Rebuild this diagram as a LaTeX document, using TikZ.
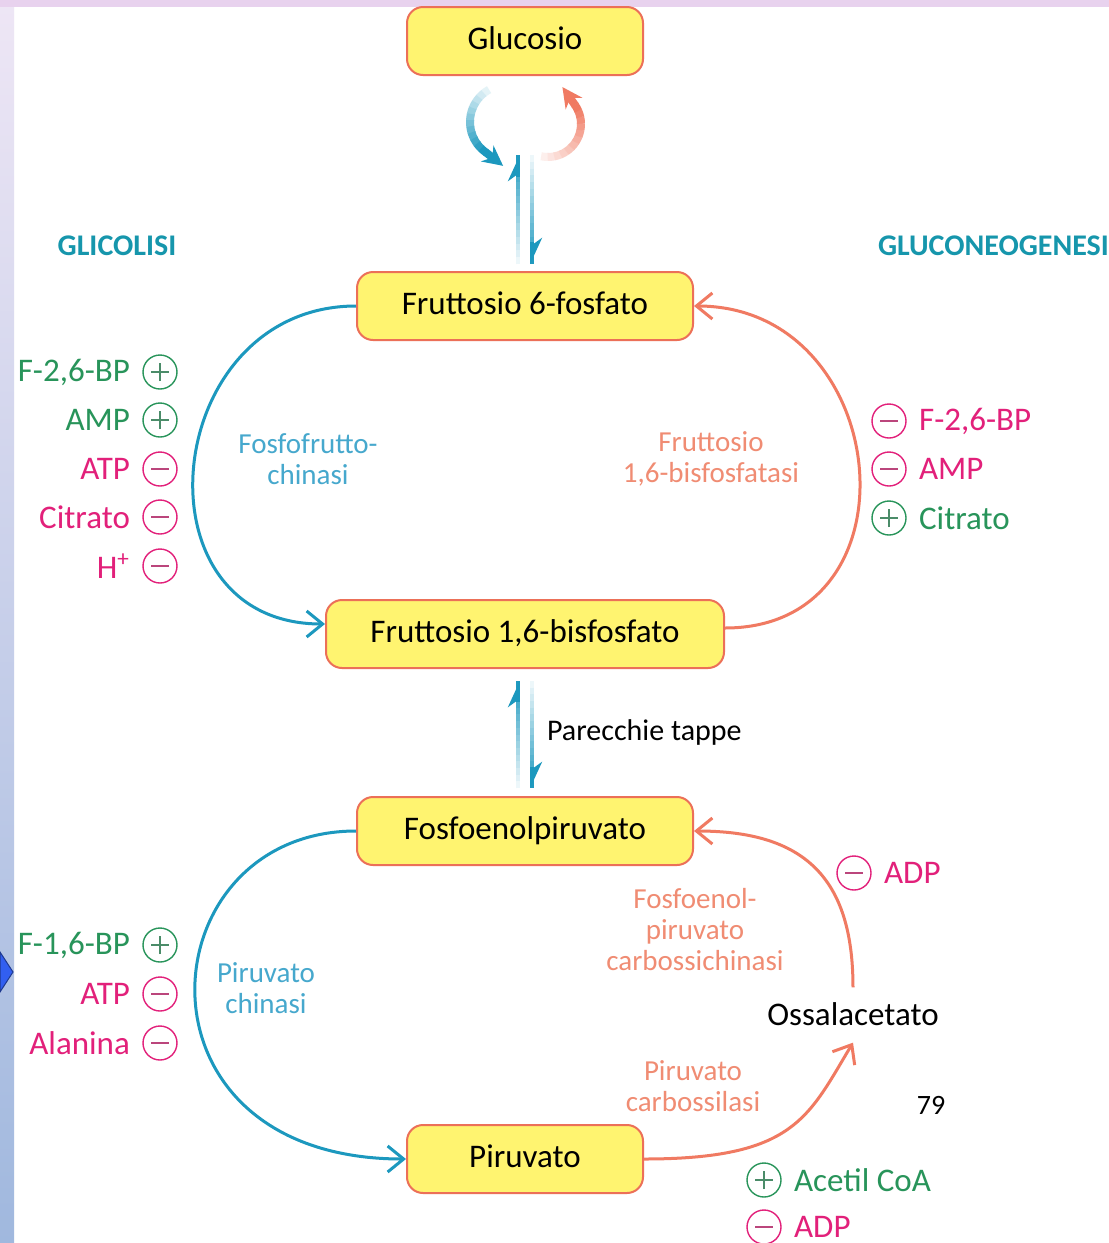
\documentclass[tikz,border=0pt]{standalone}
\usepackage{fontspec}
\setmainfont{Carlito}
\usetikzlibrary{positioning,arrows.meta,calc}

\definecolor{boxfill}{RGB}{255,244,112}
\definecolor{boxline}{RGB}{236,112,88}
\definecolor{glyblue}{RGB}{28,152,190}
\definecolor{neosalmon}{RGB}{240,122,98}
\definecolor{actgreen}{RGB}{40,148,90}
\definecolor{inhmag}{RGB}{226,32,122}
\definecolor{enzblue}{RGB}{70,168,205}
\definecolor{enzsalmon}{RGB}{240,140,115}
\definecolor{pathteal}{RGB}{22,150,172}
\definecolor{stripTop}{RGB}{238,230,245}
\definecolor{stripBot}{RGB}{160,184,222}
\definecolor{stripPink}{RGB}{232,210,238}
\definecolor{navblue}{RGB}{50,95,240}

\begin{document}
\begin{tikzpicture}[x=0.5pt,y=-0.5pt]
\tikzstyle{metab}=[draw=boxline,fill=boxfill,line width=1pt,rounded corners=8pt,minimum height=34pt,inner sep=0pt,text height=2.25ex,text depth=0.45ex,font=\fontsize{16.5}{20}\selectfont]
\tikzstyle{enzG}=[text=enzblue,align=center,font=\fontsize{14.5}{15.3}\selectfont]
\tikzstyle{enzN}=[text=enzsalmon,align=center,font=\fontsize{14.5}{15.5}\selectfont]
\tikzstyle{regG}=[text=actgreen,inner sep=0pt,font=\fontsize{16.5}{20}\selectfont]
\tikzstyle{regM}=[text=inhmag,inner sep=0pt,font=\fontsize{16.5}{20}\selectfont]
\tikzstyle{act}=[circle,draw=actgreen,line width=0.7pt,minimum size=17pt,inner sep=0pt,
  path picture={\draw[actgreen!60!gray,line width=0.6pt]
    ([xshift=-4.5pt]path picture bounding box.center) -- ([xshift=4.5pt]path picture bounding box.center)
    ([yshift=-4.5pt]path picture bounding box.center) -- ([yshift=4.5pt]path picture bounding box.center);}]
\tikzstyle{inh}=[circle,draw=inhmag,line width=0.7pt,minimum size=17pt,inner sep=0pt,
  path picture={\draw[inhmag!60!gray,line width=0.6pt]
    ([xshift=-4.5pt]path picture bounding box.center) -- ([xshift=4.5pt]path picture bounding box.center);}]
\tikzstyle{glyarc}=[draw=glyblue,line width=1.5pt,-{Straight Barb[length=8pt,width=13pt]}]
\tikzstyle{neoarc}=[draw=neosalmon,line width=1.5pt,-{Straight Barb[length=8pt,width=13pt]}]

% page frame
\useasboundingbox (0,0) rectangle (1109,1243);
\fill[white] (0,0) rectangle (1109,1243);
\shade[top color=stripTop,bottom color=stripBot] (0,0) rectangle (14,1243);
\fill[stripPink] (0,0) rectangle (1109,7);
\fill[navblue,draw=navblue!60!black,line width=0.5pt] (0,952) -- (13,972) -- (0,992) -- cycle;

% metabolites
\node[metab,minimum width=118pt] (glu) at (525,41) {Glucosio};
\node[metab,minimum width=168pt] (f6p) at (525,306) {Fruttosio 6-fosfato};
\node[metab,minimum width=199pt] (f16bp) at (525,634) {Fruttosio 1,6-bisfosfato};
\node[metab,minimum width=168pt] (pep) at (525,831) {Fosfoenolpiruvato};
\node[metab,minimum width=118pt] (pir) at (525,1159) {Piruvato};
\node[font=\fontsize{16.5}{20}\selectfont] (oss) at (853,1014) {Ossalacetato};

% pathway titles
\node[text=pathteal,font=\fontsize{15}{18}\selectfont\bfseries] (gly) at (117,246) {GLICOLISI};
\node[text=pathteal,font=\fontsize{15}{18}\selectfont\bfseries,anchor=west] (neo) at (871,246) {GLUCONEOGENESI};

% enzymes
\node[enzG] (pfk) at (308,459) {Fosfofrutto-\\chinasi};
\node[enzN] (fbp) at (711,459) {Fruttosio\\1,6-bisfosfatasi};
\node[enzG] (pk) at (266,988) {Piruvato\\chinasi};
\node[enzN] (pepck) at (695,930) {Fosfoenol-\\piruvato\\carbossichinasi};
\node[enzN] (pc) at (693,1086) {Piruvato\\carbossilasi};

% cycle arcs
\draw[glyarc] (f6p.west) .. controls +(-195,0) and +(-195,0) .. ([yshift=5pt]f16bp.west);
\draw[neoarc] ([yshift=3pt]f16bp.east) .. controls +(199,0) and +(199,0) .. (f6p.east);
\draw[glyarc] (pep.west) .. controls +(-210,0) and +(-285,0) .. (pir.west);
\draw[neoarc] (pir.east) .. controls +(150,0) and +(-45,75) .. ([yshift=-5pt]oss.south);
\draw[neoarc] ([yshift=4pt]oss.north) .. controls +(0,-110) and +(110,0) .. (pep.east);

% glucose <-> F6P curls
\coordinate (cyc) at ([yshift=-23pt]glu.south);
\coordinate (bc) at ([xshift=-9pt]cyc);
\coordinate (sc) at ([xshift=11.5pt,yshift=-1pt]cyc);
\foreach \k in {0,...,11}{
  \pgfmathsetmacro\a{241-\k*9.67}
  \pgfmathsetmacro\b{\a-10.5}
  \pgfmathtruncatemacro\c{12+8*\k}
  \draw[line width=4pt,glyblue!\c!white] ($(bc)+(\a:37)$) arc[start angle=\a,end angle=\b,radius=37];
}
\draw[line width=4pt,glyblue,-{Stealth[length=10pt,width=10pt]}] ($(bc)+(125:37)$) -- ++(38:22);
\foreach \k in {0,...,11}{
  \pgfmathsetmacro\a{102-\k*11.4}
  \pgfmathsetmacro\b{\a-12.2}
  \pgfmathtruncatemacro\c{12+8*\k}
  \draw[line width=4pt,neosalmon!\c!white] ($(sc)+(\a:33)$) arc[start angle=\a,end angle=\b,radius=33];
}
\draw[line width=4pt,neosalmon,-{Stealth[length=10pt,width=10pt]}] ($(sc)+(-35:33)$) -- ++(-125:22);

% reversible steps
\coordinate (up1) at ([xshift=-3.5pt,yshift=3.5pt]f6p.north);
\coordinate (up2) at ([xshift=-3.5pt,yshift=-39.5pt]glu.south);
\coordinate (dn1) at ([xshift=3.5pt,yshift=-39.5pt]glu.south);
\coordinate (dn2) at ([xshift=3.5pt,yshift=3.5pt]f6p.north);
\coordinate (up3) at ([xshift=-3.5pt,yshift=4pt]pep.north);
\coordinate (up4) at ([xshift=-3.5pt,yshift=-6pt]f16bp.south);
\coordinate (dn3) at ([xshift=3.5pt,yshift=-6pt]f16bp.south);
\coordinate (dn4) at ([xshift=3.5pt,yshift=4pt]pep.north);
\foreach \p/\q in {up1/up2,dn1/dn2,up3/up4,dn3/dn4}{
  \foreach \k in {0,...,15}{
    \pgfmathsetmacro\s{\k/16}
    \pgfmathsetmacro\e{min(1,(\k+1.2)/16)}
    \pgfmathtruncatemacro\c{8+6*\k}
    \draw[line width=2pt,glyblue!\c!white] ($(\p)!\s!(\q)$) -- ($(\p)!\e!(\q)$);
  }
  \draw[line width=2pt,glyblue,-{Stealth[harpoon,length=11pt,width=10pt]}] ($(\p)!0.8!(\q)$) -- (\q);
}
\node[font=\fontsize{15}{18}\selectfont,anchor=west] (tap) at (540,732) {Parecchie tappe};

% regulators of glycolysis
\node[act] (r1) at (160,372) {};
\node[act] (r2) at (160,420) {};
\node[inh] (r3) at (160,469) {};
\node[inh] (r4) at (160,517) {};
\node[inh] (r5) at (160,566) {};
\node[regG,left=6pt of r1] (r1t) {F-2,6-BP};
\node[regG,left=6pt of r2] (r2t) {AMP};
\node[regM,left=6pt of r3] (r3t) {ATP};
\node[regM,left=6pt of r4] (r4t) {Citrato};
\node[regM,left=6pt of r5] (r5t) {H\textsuperscript{+}};
\node[act] (r6) at (160,945) {};
\node[inh] (r7) at (160,994) {};
\node[inh] (r8) at (160,1043) {};
\node[regG,left=6pt of r6] (r6t) {F-1,6-BP};
\node[regM,left=6pt of r7] (r7t) {ATP};
\node[regM,left=6pt of r8] (r8t) {Alanina};

% regulators of gluconeogenesis
\node[inh] (s1) at (889,421) {};
\node[inh] (s2) at (889,469) {};
\node[act] (s3) at (889,518) {};
\node[regM,right=6pt of s1] (s1t) {F-2,6-BP};
\node[regM,right=6pt of s2] (s2t) {AMP};
\node[regG,right=6pt of s3] (s3t) {Citrato};
\node[inh] (s4) at (854,873) {};
\node[regM,right=6pt of s4] (s4t) {ADP};
\node[act] (s5) at (764,1180) {};
\node[inh] (s6) at (764,1227) {};
\node[regG,right=6pt of s5] (s5t) {Acetil CoA};
\node[regM,right=6pt of s6] (s6t) {ADP};

\node[font=\fontsize{14}{16}\selectfont] (pg) at (931,1105) {79};
\end{tikzpicture}
\end{document}
